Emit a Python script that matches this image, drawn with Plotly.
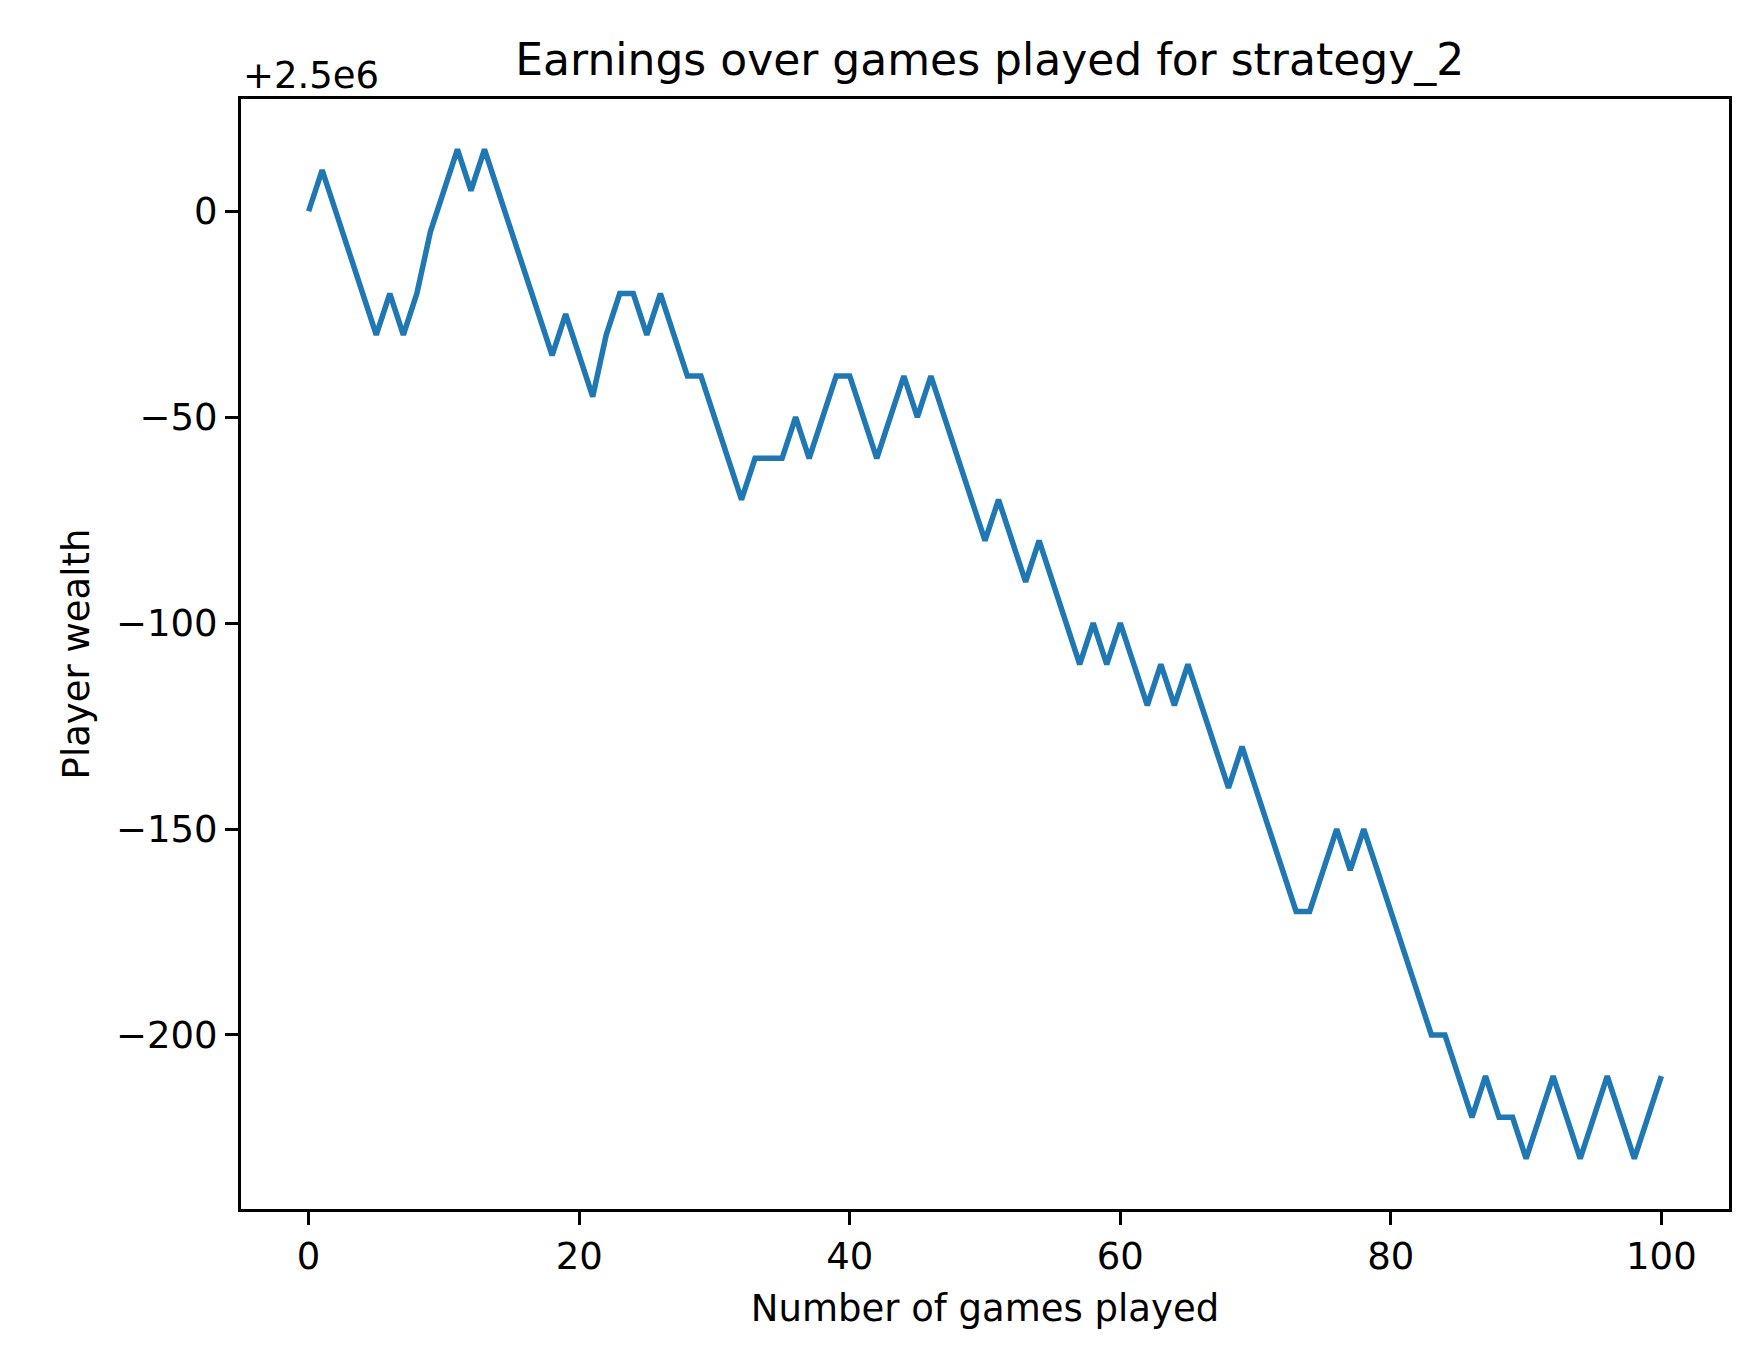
import plotly.graph_objects as go

# wealth offsets from the 2.5e6 starting bankroll, one per game
offset = 2500000
games = list(range(101))
wealth_delta = [
    0, 10, 0, -10, -20, -30, -20, -30, -20, -5,
    5, 15, 5, 15, 5, -5, -15, -25, -35, -25,
    -35, -45, -30, -20, -20, -30, -20, -30, -40, -40,
    -50, -60, -70, -60, -60, -60, -50, -60, -50, -40,
    -40, -50, -60, -50, -40, -50, -40, -50, -60, -70,
    -80, -70, -80, -90, -80, -90, -100, -110, -100, -110,
    -100, -110, -120, -110, -120, -110, -120, -130, -140, -130,
    -140, -150, -160, -170, -170, -160, -150, -160, -150, -160,
    -170, -180, -190, -200, -200, -210, -220, -210, -220, -220,
    -230, -220, -210, -220, -230, -220, -210, -220, -230, -220,
    -210,
]
wealth = [offset + d for d in wealth_delta]

fig = go.Figure()
fig.add_trace(go.Scatter(
    x=games,
    y=[w - offset for w in wealth],
    mode='lines',
    line=dict(color='#1f77b4', width=5.5),
))

axis_common = dict(
    showgrid=False, zeroline=False, showline=True, mirror=True,
    linecolor='black', linewidth=3, ticks='outside', ticklen=13, tickwidth=3,
    tickcolor='black', tickfont=dict(size=37, color='black'),
)

fig.update_layout(
    width=1750, height=1361,
    paper_bgcolor='white', plot_bgcolor='white',
    margin=dict(l=233, r=29, t=91, b=160),
    font=dict(family='DejaVu Sans', color='black'),
    showlegend=False,
    title=dict(text='Earnings over games played for strategy_2', x=0.561, xanchor='center',
               y=1 - 52 / 1361, yanchor='middle', font=dict(size=44)),
    xaxis=dict(range=[-5, 105], tickvals=[0, 20, 40, 60, 80, 100],
               title=dict(text='Number of games played', font=dict(size=37), standoff=18),
               **axis_common),
    yaxis=dict(range=[-242.25, 27.25], tickvals=[0, -50, -100, -150, -200],
               ticktext=['0', '\u221250', '\u2212100', '\u2212150', '\u2212200'],
               title=dict(text='Player wealth', font=dict(size=37), standoff=16),
               **axis_common),
)

fig.add_annotation(text='+2.5e6', xref='paper', yref='paper', x=0, y=1,
                   xanchor='left', yanchor='bottom', showarrow=False,
                   font=dict(size=37, color='black'), yshift=0)

fig.write_html('out.html')
